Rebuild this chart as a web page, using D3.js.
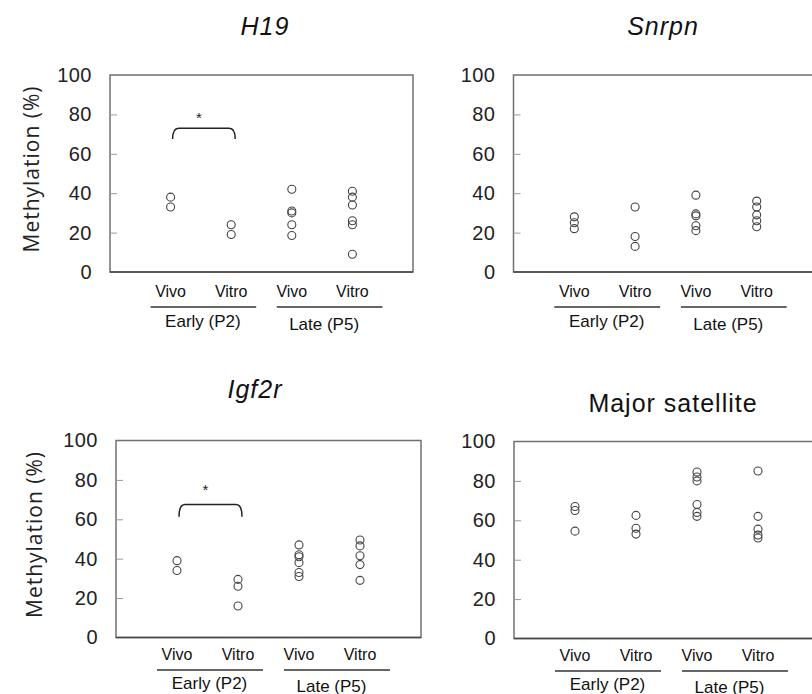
<!DOCTYPE html>
<html>
<head>
<meta charset="utf-8">
<script src="https://cdn.jsdelivr.net/npm/d3@7"></script>
<style>
  body { margin: 0; background: #fff; }
  svg { display: block; font-family: "Liberation Sans", Arial, sans-serif; }
</style>
</head>
<body>
<div id="chart"></div>
<script>
// four dot plots of methylation (%) for vivo / vitro embryos at early and late passage

var catKeys = ['earlyVivo', 'earlyVitro', 'lateVivo', 'lateVitro'];
var catLabels = ['Vivo', 'Vitro', 'Vivo', 'Vitro'];
var stages = ['Early (P2)', 'Late (P5)'];
var yTicks = [0, 20, 40, 60, 80, 100];
var innerTicks = [20, 40, 60, 80];

// values, one array per group
var h19 = [[38, 33], [24, 19], [42, 31, 30, 24, 18.5], [41, 38, 34, 26, 24, 9]];
var snrpn = [[28, 25, 22], [33, 18, 13], [39, 29.5, 28.5, 23.5, 21], [36, 33, 29, 26, 23]];
var igf2r = [[39, 34], [29.5, 26, 16], [47, 42, 41, 38, 33, 31], [49.5, 46.5, 41.5, 37, 29]];
var majorSat = [[67, 65, 54.5], [62.5, 56, 53], [84.5, 82, 80, 68, 64, 62], [85, 62, 55.5, 52.5, 51]];

// significance brackets: level of bar, level of ends, level of star
var h19Bracket = { top: 73, end: 67.5, star: 80 };
var igf2rBracket = { top: 67.5, end: 61.3, star: 76.4 };

var width = 812;
var height = 694;
var pointColor = '#444';
var boxColor = '#707070';

// label offsets below the axis: [group label, underline, early, late]
var topRowOffsets = [25, 35, 54.5, 57.5];
var bottomRowOffsets = [22.5, 32.5, 51.5, 54];

var panels = [
  { title: 'H19', italic: true, values: h19, bracket: h19Bracket, ylabel: true, offs: topRowOffsets,
    left: 110, top: 75, w: 303, h: 197, titleX: 265, titleY: 35, labelX: 31 },
  { title: 'Snrpn', italic: true, values: snrpn, bracket: null, ylabel: false, offs: topRowOffsets,
    left: 513.5, top: 75, w: 304, h: 197, titleX: 663, titleY: 35 },
  { title: 'Igf2r', italic: true, values: igf2r, bracket: igf2rBracket, ylabel: true, offs: bottomRowOffsets,
    left: 116, top: 440.5, w: 305, h: 197, titleX: 255, titleY: 398, labelX: 34 },
  { title: 'Major satellite', italic: false, values: majorSat, bracket: null, ylabel: false, offs: bottomRowOffsets,
    left: 514, top: 441.5, w: 305, h: 197, titleX: 673, titleY: 411.5 }
];

var svg = d3.select('#chart').append('svg')
      .attr('width', width)
      .attr('height', height)

svg.append('rect')
      .attr('width', width)
      .attr('height', height)
      .attr('fill', '#fff')

panels.forEach(function(p) {
  var xScale = d3.scalePoint()
        .domain(catKeys)
        .range([p.left, p.left + p.w])
        .padding(1)
  var yScale = d3.scaleLinear()
        .domain([0, 100])
        .range([p.top + p.h, p.top])

  // title
  svg.append('text')
        .attr('x', p.titleX)
        .attr('y', p.titleY)
        .attr('text-anchor', 'middle')
        .style('font-size', '25px')
        .style('letter-spacing', '1px')
        .style('font-style', p.italic ? 'italic' : 'normal')
        .attr('fill', '#111')
        .text(p.title)

  // frame
  svg.append('rect')
        .attr('x', p.left)
        .attr('y', p.top)
        .attr('width', p.w)
        .attr('height', p.h)
        .attr('fill', 'none')
        .attr('stroke', boxColor)
        .attr('stroke-width', 1.5)
  svg.append('line')
        .attr('x1', p.left).attr('x2', p.left + p.w)
        .attr('y1', p.top + p.h).attr('y2', p.top + p.h)
        .attr('stroke', '#444')
        .attr('stroke-width', 1.5)

  // y tick labels
  var yAxis = d3.axisLeft(yScale)
        .tickValues(yTicks)
        .tickSize(0)
        .tickPadding(18)
  var gy = svg.append('g')
        .attr('transform', 'translate(' + p.left + ',0)')
        .call(yAxis)
  gy.select('.domain').remove()
  gy.selectAll('text')
        .style('font-size', '20px')
        .style('letter-spacing', '0.5px')
        .attr('fill', '#222')
        .attr('font-family', '"Liberation Sans", Arial, sans-serif')

  // small inward ticks
  var gt = svg.append('g')
        .attr('transform', 'translate(' + p.left + ',0)')
        .call(d3.axisRight(yScale).tickValues(innerTicks).tickSize(7).tickFormat(''))
  gt.select('.domain').remove()
  gt.selectAll('line').attr('stroke', '#9a9a9a').attr('stroke-width', 1)

  // y axis title
  if (p.ylabel) {
    svg.append('text')
          .attr('transform', 'translate(' + p.labelX + ',' + (p.top + p.h / 2 - 4) + ') rotate(-90)')
          .attr('text-anchor', 'middle')
          .attr('dominant-baseline', 'central')
          .attr('textLength', 166)
          .attr('lengthAdjust', 'spacing')
          .style('font-family', '"Open Sans", "Noto Sans", sans-serif')
          .style('font-size', '21px')
          .attr('fill', '#222')
          .text('Methylation (%)')
  }

  // group labels under the axis
  var base = p.top + p.h;
  svg.selectAll(null)
        .data(catKeys)
        .enter()
        .append('text')
        .attr('x', d => xScale(d))
        .attr('y', base + p.offs[0])
        .attr('text-anchor', 'middle')
        .style('font-size', '16px')
        .attr('fill', '#111')
        .text((d, i) => catLabels[i])

  stages.forEach(function(s, i) {
    var xa = xScale(catKeys[i * 2]);
    var xb = xScale(catKeys[i * 2 + 1]);
    svg.append('line')
          .attr('x1', i === 0 ? xa - 20 : xa - 15)
          .attr('x2', i === 0 ? xb + 25 : xb + 30)
          .attr('y1', base + p.offs[1])
          .attr('y2', base + p.offs[1])
          .attr('stroke', '#333')
          .attr('stroke-width', 1.5)
    svg.append('text')
          .attr('x', (xa + xb) / 2 + 2)
          .attr('y', base + p.offs[2 + i])
          .attr('text-anchor', 'middle')
          .style('font-size', '17px')
          .attr('fill', '#111')
          .text(s)
  })

  // points
  var pts = [];
  p.values.forEach(function(arr, i) {
    arr.forEach(function(v) { pts.push({ cat: catKeys[i], value: v }); });
  });
  svg.append('g').selectAll('circle')
        .data(pts)
        .enter()
        .append('circle')
        .attr('cx', d => xScale(d.cat))
        .attr('cy', d => yScale(d.value))
        .attr('r', 4)
        .attr('fill', 'none')
        .attr('stroke', pointColor)
        .attr('stroke-width', 1.1)

  // significance bracket
  if (p.bracket) {
    var b = p.bracket;
    var x1 = xScale(catKeys[0]) + 2;
    var x2 = xScale(catKeys[1]) + 4;
    var yt = yScale(b.top);
    var ye = yScale(b.end);
    var path = d3.path();
    path.moveTo(x1, ye);
    path.quadraticCurveTo(x1, yt, x1 + 6, yt);
    path.lineTo(x2 - 6, yt);
    path.quadraticCurveTo(x2, yt, x2, ye);
    svg.append('path')
          .attr('d', path.toString())
          .attr('fill', 'none')
          .attr('stroke', '#222')
          .attr('stroke-width', 1.5)
    svg.append('text')
          .attr('x', (x1 + x2) / 2 - 5)
          .attr('y', yScale(b.star) + 8.5)
          .attr('text-anchor', 'middle')
          .style('font-size', '15px')
          .attr('fill', '#222')
          .text('*')
  }
});
</script>
</body>
</html>
